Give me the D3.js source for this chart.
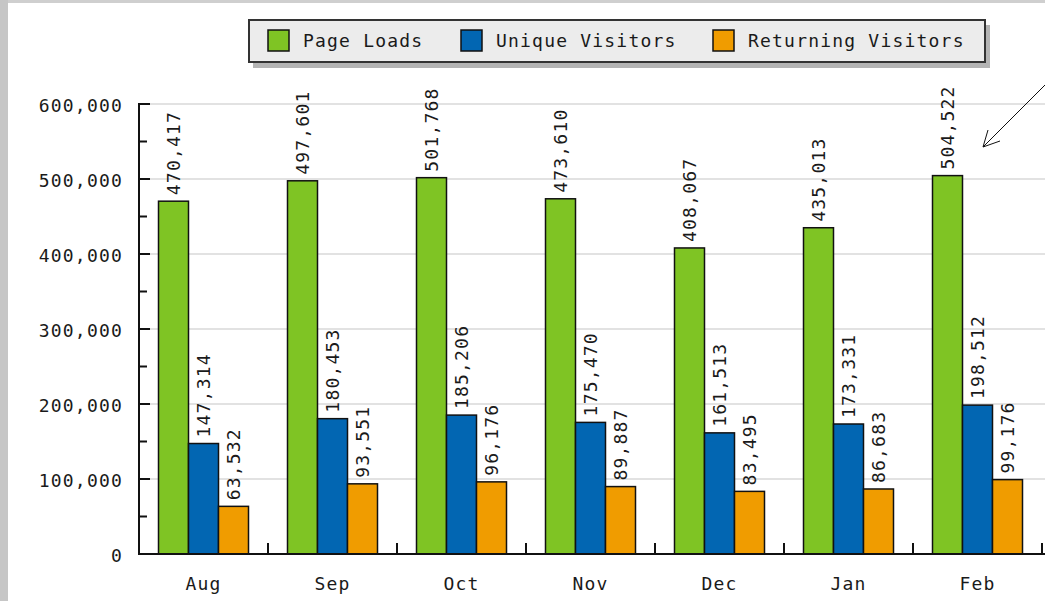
<!DOCTYPE html>
<html>
<head>
  <meta charset="utf-8">
  <script src="https://cdnjs.cloudflare.com/ajax/libs/d3/7.8.5/d3.min.js"></script>
  <style>
    body { margin: 0; background: #fff; }
    svg text { font-family: "DejaVu Sans Mono", monospace; font-size: 18px; fill: #1a1a1a; letter-spacing: 1.2px; }
  </style>
</head>
<body>
  <div id="chart"></div>
  <script>
    var months = ['Aug', 'Sep', 'Oct', 'Nov', 'Dec', 'Jan', 'Feb'];
    var seriesNames = ['Page Loads', 'Unique Visitors', 'Returning Visitors'];
    var pageLoads = [470417, 497601, 501768, 473610, 408067, 435013, 504522];
    var uniqueVisitors = [147314, 180453, 185206, 175470, 161513, 173331, 198512];
    var returningVisitors = [63532, 93551, 96176, 89887, 83495, 86683, 99176];
    var yTicks = [0, 100000, 200000, 300000, 400000, 500000, 600000];
    var colors = ['#7fc424', '#0266b2', '#f09c00'];

    var width = 1045, height = 601;
    var series = [pageLoads, uniqueVisitors, returningVisitors];

    var svg = d3.select('#chart').append('svg')
      .attr('width', width)
      .attr('height', height);

    // frame of the original screenshot
    svg.append('rect').attr('x', 0).attr('y', 0).attr('width', width).attr('height', 3).attr('fill', '#cfcfcf');
    svg.append('rect').attr('x', 0).attr('y', 0).attr('width', 8).attr('height', height).attr('fill', '#c6c6c6');

    var x = d3.scaleBand().domain(months).range([139, 139 + 7 * 129]);
    var xInner = d3.scaleBand().domain(d3.range(3)).range([19.5, 109.5]);
    var y = d3.scaleLinear().domain([0, 600000]).range([554, 104]);
    var fmt = d3.format(',');

    // grid
    svg.append('g').selectAll('line')
      .data(yTicks.filter(function(d) { return d > 0; }))
      .enter().append('line')
      .attr('x1', 139).attr('x2', width)
      .attr('y1', function(d) { return y(d); })
      .attr('y2', function(d) { return y(d); })
      .attr('stroke', '#e2e2e2').attr('stroke-width', 2);

    // bars
    months.forEach(function(m, i) {
      var g = svg.append('g').attr('transform', 'translate(' + x(m) + ',0)');
      series.forEach(function(s, j) {
        g.append('rect')
          .attr('x', xInner(j))
          .attr('y', y(s[i]))
          .attr('width', xInner.bandwidth())
          .attr('height', y(0) - y(s[i]))
          .attr('fill', colors[j])
          .attr('stroke', '#111')
          .attr('stroke-width', 1.5);
        var cx = xInner(j) + xInner.bandwidth() / 2;
        g.append('text')
          .attr('transform', 'translate(' + cx + ',' + (y(s[i]) - 6) + ') rotate(-90)')
          .attr('dy', '0.36em')
          .text(fmt(s[i]));
      });
    });

    // y axis
    var yAxis = svg.append('g');
    yAxis.append('line').attr('x1', 139).attr('x2', 139).attr('y1', 103).attr('y2', 555)
      .attr('stroke', '#111').attr('stroke-width', 2);
    yAxis.selectAll('line.minor')
      .data(d3.range(0, 600001, 50000))
      .enter().append('line')
      .attr('class', 'minor')
      .attr('x1', 139)
      .attr('x2', function(d) { return d % 100000 === 0 ? 150 : 147; })
      .attr('y1', function(d) { return y(d); })
      .attr('y2', function(d) { return y(d); })
      .attr('stroke', '#111').attr('stroke-width', 2);
    yAxis.selectAll('text')
      .data(yTicks)
      .enter().append('text')
      .attr('x', 123)
      .attr('y', function(d) { return y(d) + 2; })
      .attr('dy', '0.36em')
      .attr('text-anchor', 'end')
      .text(fmt);

    // x axis
    var xAxis = svg.append('g');
    xAxis.append('line').attr('x1', 138).attr('x2', width).attr('y1', 554).attr('y2', 554)
      .attr('stroke', '#111').attr('stroke-width', 2);
    xAxis.selectAll('line.tick')
      .data(months)
      .enter().append('line')
      .attr('class', 'tick')
      .attr('x1', function(d) { return x(d) + x.bandwidth(); })
      .attr('x2', function(d) { return x(d) + x.bandwidth(); })
      .attr('y1', 554).attr('y2', 543)
      .attr('stroke', '#111').attr('stroke-width', 2);
    xAxis.selectAll('text')
      .data(months)
      .enter().append('text')
      .attr('x', function(d) { return x(d) + x.bandwidth() / 2; })
      .attr('y', 590)
      .attr('text-anchor', 'middle')
      .text(function(d) { return d; });

    // legend
    var legend = svg.append('g');
    legend.append('rect').attr('x', 253).attr('y', 25).attr('width', 737).attr('height', 43).attr('fill', '#b4b4b4');
    legend.append('rect').attr('x', 249).attr('y', 20).attr('width', 736).attr('height', 42)
      .attr('fill', '#ececec').attr('stroke', '#333').attr('stroke-width', 2);
    var legendX = [268, 461, 713];
    seriesNames.forEach(function(name, j) {
      legend.append('rect')
        .attr('x', legendX[j]).attr('y', 30).attr('width', 21).attr('height', 21)
        .attr('fill', colors[j]).attr('stroke', '#111').attr('stroke-width', 1.5);
      legend.append('text')
        .attr('x', legendX[j] + 35).attr('y', 47)
        .text(name);
    });

    // annotation arrow
    var arrow = svg.append('g').attr('stroke', '#111').attr('stroke-width', 1).attr('fill', 'none');
    arrow.append('line').attr('x1', 1045).attr('y1', 85).attr('x2', 983).attr('y2', 147);
    arrow.append('line').attr('x1', 983).attr('y1', 147).attr('x2', 988).attr('y2', 130);
    arrow.append('line').attr('x1', 983).attr('y1', 147).attr('x2', 1000).attr('y2', 141);
  </script>
</body>
</html>
